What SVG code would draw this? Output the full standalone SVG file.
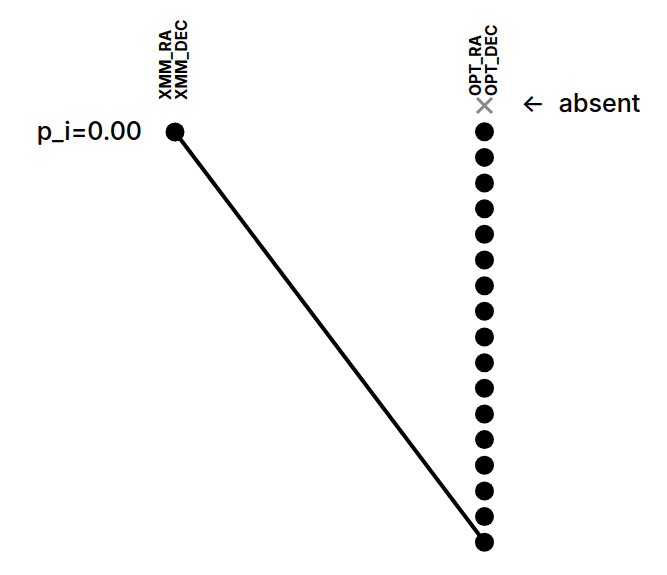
<svg xmlns="http://www.w3.org/2000/svg" width="667" height="575" viewBox="0 0 667 575">
<style>
.lbl{font-family:Inter,"Liberation Sans",sans-serif;font-weight:500;font-size:25px;fill:#000}
.col{font-family:Inter,"Liberation Sans",sans-serif;font-weight:700;font-size:15.5px;fill:#000}
.dot{fill:#000}
.edge{stroke:#000;stroke-width:4;fill:none}
.miss{stroke:#888;stroke-width:3;fill:none}
</style>
<rect width="667" height="575" fill="#fff"/>
<g id="connectors">
<line class="edge" x1="175" y1="132" x2="484.5" y2="542"/>
</g>
<g id="xmm">
<text class="col" transform="translate(171,100) rotate(-90)">XMM_RA</text>
<text class="col" transform="translate(187,100) rotate(-90)">XMM_DEC</text>
<text class="lbl" x="142" y="139.5" text-anchor="end">p_i=0.00</text>
<circle class="dot" cx="175" cy="132" r="9.5"/>
</g>
<g id="opt">
<text class="col" transform="translate(481,96) rotate(-90)">OPT_RA</text>
<text class="col" transform="translate(497,96) rotate(-90)">OPT_DEC</text>
<path class="miss" d="M477,98 L492,113 M492,98 L477,113"/>
<text class="lbl" x="521" y="111.5">←<tspan dx="14">absent</tspan></text>
<circle class="dot" cx="484.5" cy="131.7" r="9.5"/>
<circle class="dot" cx="484.5" cy="157.4" r="9.5"/>
<circle class="dot" cx="484.5" cy="183" r="9.5"/>
<circle class="dot" cx="484.5" cy="208.7" r="9.5"/>
<circle class="dot" cx="484.5" cy="234.3" r="9.5"/>
<circle class="dot" cx="484.5" cy="260" r="9.5"/>
<circle class="dot" cx="484.5" cy="285.7" r="9.5"/>
<circle class="dot" cx="484.5" cy="311.3" r="9.5"/>
<circle class="dot" cx="484.5" cy="337" r="9.5"/>
<circle class="dot" cx="484.5" cy="362.7" r="9.5"/>
<circle class="dot" cx="484.5" cy="388.3" r="9.5"/>
<circle class="dot" cx="484.5" cy="414" r="9.5"/>
<circle class="dot" cx="484.5" cy="439.6" r="9.5"/>
<circle class="dot" cx="484.5" cy="465.3" r="9.5"/>
<circle class="dot" cx="484.5" cy="491" r="9.5"/>
<circle class="dot" cx="484.5" cy="516.6" r="9.5"/>
<circle class="dot" cx="484.5" cy="542.3" r="9.5"/>
</g>
</svg>
